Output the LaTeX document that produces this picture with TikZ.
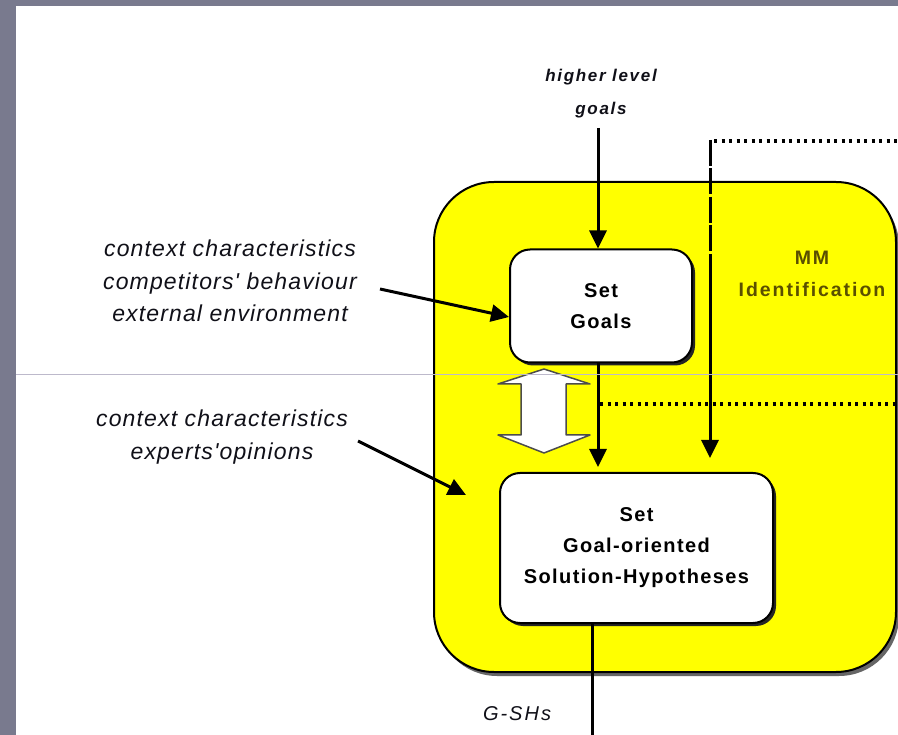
\documentclass[tikz,border=0pt]{standalone}
\usepackage{fontspec}
\setmainfont{Liberation Sans}
\newfontfamily\boxfont[LetterSpace=7]{Liberation Sans}
\newfontfamily\labfont[LetterSpace=5]{Liberation Sans}
\newfontfamily\smallfont[LetterSpace=10]{Liberation Sans}
\usetikzlibrary{arrows.meta,shadows,calc}
\definecolor{frame}{HTML}{797A8E}
\definecolor{hairline}{HTML}{BDB9CB}
\definecolor{mmolive}{HTML}{5A4F00}
\definecolor{labtext}{HTML}{101018}
\definecolor{mmyellow}{HTML}{FFFF00}
\tikzset{
  conn/.style={line width=3pt, -{Triangle[width=17pt,length=18pt]}},
  plainline/.style={line width=3pt},
  dotline/.style={line width=3.5pt, dash pattern=on 3pt off 4.5pt},
  dashline/.style={line width=3pt, dash pattern=on 26pt off 2.5pt},
  stepbox/.style={draw=black, line width=2pt, fill=white, rounded corners=20pt,
    align=center, text=black,
    general shadow={fill=black!85, shadow xshift=3pt, shadow yshift=-3pt},
    font=\boxfont\bfseries\fontsize{20pt}{31pt}\selectfont},
  mmbox/.style={draw=black, line width=2pt, fill=mmyellow, rounded corners=60pt,
    general shadow={fill=black!60, shadow xshift=3pt, shadow yshift=-4pt}},
  italab/.style={align=center, text=labtext, font=\labfont\itshape\fontsize{23pt}{32.5pt}\selectfont},
  smalllab/.style={align=center, text=labtext, font=\smallfont\itshape\bfseries\fontsize{17pt}{33pt}\selectfont},
}
\begin{document}
\begin{tikzpicture}[x=1pt, y=-1pt]
\useasboundingbox (0,0) rectangle (898,735);
\fill[white] (0,0) rectangle (898,735);
\fill[frame] (0,0) rectangle (16,735);
\fill[frame] (0,0) rectangle (898,6);

% yellow MM identification area
\node[mmbox, minimum width=462pt, minimum height=490pt] (mm) at (665,427) {};
\node[align=center, text=mmolive, font=\smallfont\bfseries\fontsize{19.5pt}{32pt}\selectfont] (mmlab) at (812,274) {MM\\Identification};

% process boxes
\node[stepbox, minimum width=182pt, minimum height=113pt] (sg) at (601,306) {Set\\Goals};
\node[stepbox, minimum width=273pt, minimum height=150pt] (sh) at (636.5,548) {Set\\Goal-oriented\\Solution-Hypotheses};

% labels
\node[smalllab] (hlg) at (601,94) {higher level\\goals};
\node[italab] (ctx1) at (230,281) {context characteristics\\competitors' behaviour\\external environment};
\node[italab] (ctx2) at (222,437) {context characteristics\\experts'opinions};
\node[text=labtext, font=\smallfont\itshape\fontsize{20pt}{24pt}\selectfont] (gsh) at (517,714) {G-SHs};

% coordinates for free ends
\coordinate (hl) at (598,128);
\coordinate (dtop) at (710,140);
\coordinate (dmid) at (710,262);
\coordinate (dend) at (710,473);
\coordinate (topr) at (898,141);
\coordinate (midl) at (600,404);
\coordinate (midr) at (898,404);
\coordinate (a1) at (380,289);
\coordinate (a2) at (358,441);
\coordinate (a2e) at (466,495);
\coordinate (out) at (592,735);

% connectors
\draw[conn] (hl) -- (hl |- sg.north);
\draw[conn, shorten >=5pt] ($(sg.south)+(-3,0)$) -- ($(sh.north)+(-38.5,0)$);
\draw[dashline] (dtop) -- (dmid);
\draw[conn, shorten >=15pt] (dmid) -- (dend);
\draw[dotline] ($(dtop)+(4,1)$) -- (topr);
\draw[dotline] (midl) -- (midr);
\draw[conn] (a1) -- ($(sg.west)+(0,11)$);
\draw[conn] (a2) -- (a2e);
\draw[plainline] (sh.south -| out) -- (out);

% double block arrow
\draw[fill=white, draw=black!70, line width=1.5pt, line join=round]
  (544,369) -- (590,384) -- (566,384) -- (566,435) -- (590,435) -- (544,453)
  -- (498,435) -- (521,435) -- (521,384) -- (498,384) -- cycle;

% hairline across the picture
\draw[hairline, line width=1pt] (16,375) -- (898,375);
\end{tikzpicture}
\end{document}
